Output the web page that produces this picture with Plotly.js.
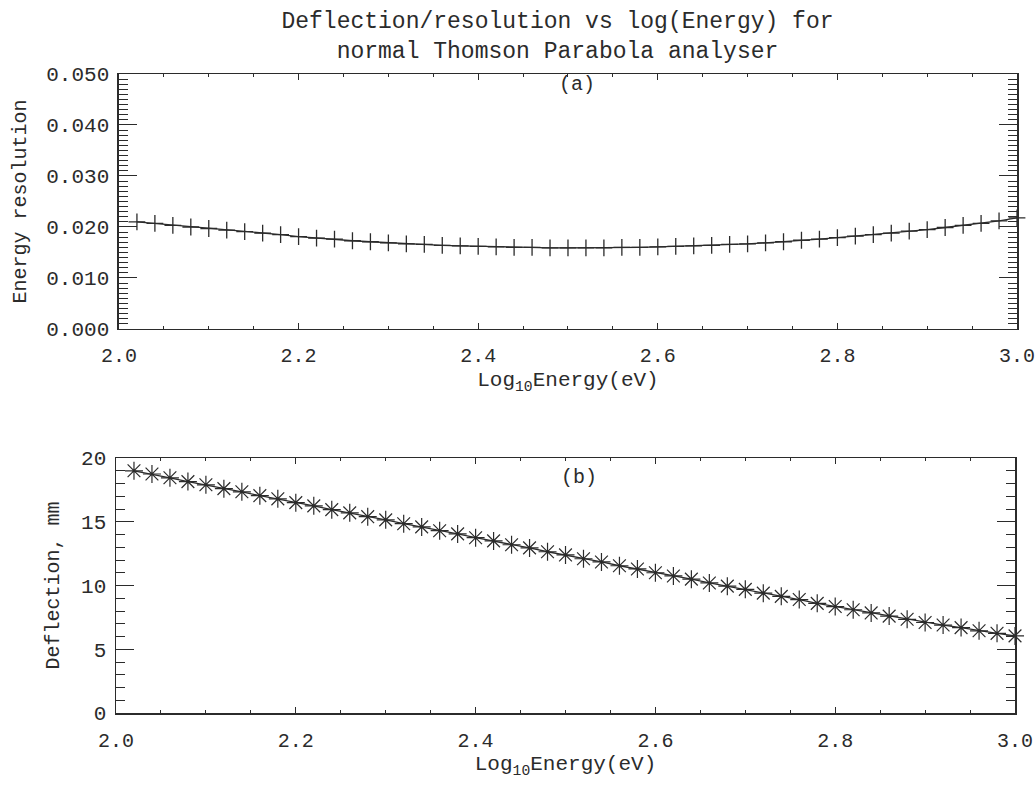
<!DOCTYPE html>
<html>
<head>
<meta charset="utf-8">
<script src="https://cdn.plot.ly/plotly-3.0.1.min.js"></script>
<style>html,body{margin:0;padding:0;background:#fff}</style>
</head>
<body>
<div id="chart" style="width:1036px;height:785px"></div>
<script>
// ---- data ----
const logEnergy = [2.02, 2.04, 2.06, 2.08, 2.10, 2.12, 2.14, 2.16, 2.18, 2.20,
                   2.22, 2.24, 2.26, 2.28, 2.30, 2.32, 2.34, 2.36, 2.38, 2.40,
                   2.42, 2.44, 2.46, 2.48, 2.50, 2.52, 2.54, 2.56, 2.58, 2.60,
                   2.62, 2.64, 2.66, 2.68, 2.70, 2.72, 2.74, 2.76, 2.78, 2.80,
                   2.82, 2.84, 2.86, 2.88, 2.90, 2.92, 2.94, 2.96, 2.98, 3.00];
const energyResolution = [0.0210, 0.0207, 0.0203, 0.0200, 0.0197, 0.0194, 0.0191, 0.0188, 0.0185, 0.0181,
                          0.0178, 0.0176, 0.0173, 0.0171, 0.0169, 0.0167, 0.0166, 0.0164, 0.0163, 0.0162,
                          0.0161, 0.0160, 0.0160, 0.0159, 0.0159, 0.0159, 0.0159, 0.0160, 0.0160, 0.0161,
                          0.0162, 0.0163, 0.0164, 0.0166, 0.0167, 0.0169, 0.0171, 0.0174, 0.0176, 0.0179,
                          0.0182, 0.0185, 0.0188, 0.0192, 0.0195, 0.0199, 0.0203, 0.0207, 0.0212, 0.0218];
const deflectionMm = [19.0, 18.75, 18.45, 18.15, 17.9, 17.6, 17.35, 17.05, 16.8, 16.5,
                      16.25, 15.95, 15.7, 15.4, 15.15, 14.85, 14.6, 14.3, 14.05, 13.75,
                      13.5, 13.2, 12.95, 12.65, 12.4, 12.1, 11.85, 11.55, 11.3, 11.0,
                      10.75, 10.5, 10.2, 9.95, 9.7, 9.4, 9.15, 8.9, 8.6, 8.35,
                      8.1, 7.85, 7.6, 7.35, 7.1, 6.9, 6.7, 6.45, 6.25, 6.05];
const chartTitle = "Deflection/resolution vs log(Energy) for<br>normal Thomson Parabola analyser";
const xTitle = "Log<sub>10</sub>Energy(eV)";
const yTitleTop = "Energy resolution";
const yTitleBottom = "Deflection, mm";
const panelLabels = ["(a)", "(b)"];

// ---- styling ----
const ink = "#2b2b2b";
const FONT = "Liberation Mono, DejaVu Sans Mono, monospace";

function xAxisDef(domain, anchor) {
  return {
    domain: domain, anchor: anchor, range: [2.0, 3.0],
    tick0: 2.0, dtick: 0.2, tickformat: ".1f",
    ticks: "inside", ticklen: 6, tickwidth: 1, tickcolor: ink,
    minor: {dtick: 0.05, ticks: "inside", ticklen: 3, tickwidth: 1, tickcolor: ink, showgrid: false},
    showline: true, linecolor: ink, linewidth: 1.5, mirror: "ticks",
    showgrid: false, zeroline: false,
    tickfont: {family: FONT, size: 20, color: ink},
    ticklabelstandoff: 8,
    title: {text: xTitle, font: {family: FONT, size: 21, color: ink}, standoff: 4}
  };
}
function yAxisDef(domain, anchor, range, dtick, minorDtick, fmt, title, standoff) {
  return {
    domain: domain, anchor: anchor, range: range,
    tick0: 0, dtick: dtick, tickformat: fmt,
    ticks: "inside", ticklen: 18, tickwidth: 1, tickcolor: ink,
    minor: {dtick: minorDtick, ticks: "inside", ticklen: 9, tickwidth: 1, tickcolor: ink, showgrid: false},
    showline: true, linecolor: ink, linewidth: 1.5, mirror: "ticks",
    showgrid: false, zeroline: false,
    tickfont: {family: FONT, size: 21, color: ink},
    ticklabelstandoff: 4,
    automargin: true,
    title: {text: title, font: {family: FONT, size: 20, color: ink}, standoff: standoff}
  };
}

const traces = [
  {
    x: logEnergy, y: energyResolution, xaxis: "x", yaxis: "y",
    type: "scatter", mode: "lines+markers",
    line: {color: ink, width: 1.3},
    marker: {symbol: "cross-thin-open", size: 12, color: ink, line: {color: ink, width: 1.3}},
    showlegend: false, cliponaxis: false
  },
  {
    x: logEnergy, y: deflectionMm, xaxis: "x2", yaxis: "y2",
    type: "scatter", mode: "lines+markers",
    line: {color: ink, width: 1.3},
    marker: {symbol: "asterisk-open", size: 15, color: ink, line: {color: ink, width: 1.2}},
    showlegend: false, cliponaxis: false
  }
];

const layout = {
  width: 1036, height: 785,
  paper_bgcolor: "#ffffff", plot_bgcolor: "#ffffff",
  margin: {l: 116, r: 19, t: 74, b: 72},
  font: {family: FONT, color: ink},
  title: {
    text: chartTitle, x: 0.49, xref: "paper", xanchor: "center",
    y: 0.964, yref: "container", yanchor: "middle",
    font: {family: FONT, size: 23, color: ink}
  },
  xaxis: xAxisDef([0.0033, 1], "y"),
  yaxis: yAxisDef([0.601, 1], "x", [0, 0.05], 0.01, 0.001, ".3f", yTitleTop, 14),
  xaxis2: xAxisDef([0, 0.9978], "y2"),
  yaxis2: yAxisDef([0, 0.399], "x2", [0, 20], 5, 1, "d", yTitleBottom, 16),
  annotations: [
    {text: panelLabels[0], xref: "x", yref: "y domain", x: 2.51, y: 1.012, yanchor: "top",
     showarrow: false, font: {family: FONT, size: 20, color: ink}},
    {text: panelLabels[1], xref: "x2", yref: "y2 domain", x: 2.515, y: 0.975, yanchor: "top",
     showarrow: false, font: {family: FONT, size: 20, color: ink}}
  ]
};

Plotly.newPlot("chart", traces, layout, {displayModeBar: false, staticPlot: true});
</script>
</body>
</html>
